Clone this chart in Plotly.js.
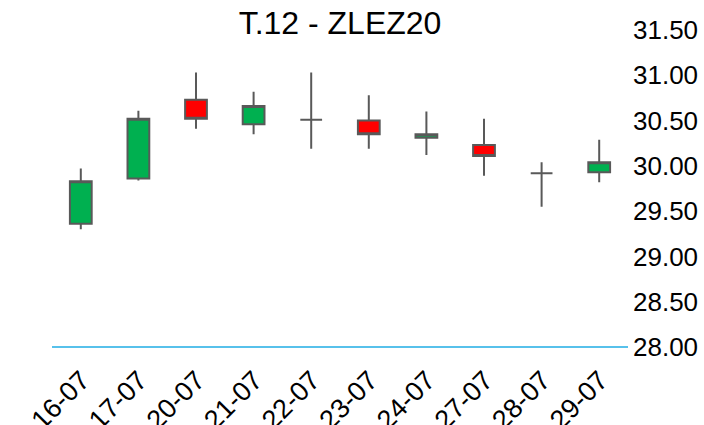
<!DOCTYPE html>
<html>
<head>
<meta charset="utf-8">
<script src="https://cdn.plot.ly/plotly-3.0.1.min.js"></script>
<style>html,body{margin:0;padding:0;background:#fff;}#chart{width:704px;height:425px;}</style>
</head>
<body>
<div id="chart"></div>
<script>
var dates = ["16-07","17-07","20-07","21-07","22-07","23-07","24-07","27-07","28-07","29-07"];
var openVals  = [29.36, 29.86, 30.73, 30.46, 30.51, 30.50, 30.31, 30.23, 29.92, 29.93];
var highVals  = [29.97, 30.61, 31.03, 30.82, 31.03, 30.78, 30.60, 30.52, 30.04, 30.29];
var lowVals   = [29.30, 29.84, 30.41, 30.35, 30.19, 30.19, 30.12, 29.89, 29.55, 29.82];
var closeVals = [29.83, 30.52, 30.52, 30.66, 30.51, 30.35, 30.35, 30.11, 29.92, 30.04];
var yTicks = [28.0, 28.5, 29.0, 29.5, 30.0, 30.5, 31.0, 31.5];
var titleText = "T.12 - ZLEZ20";

var trace = {
  type: "candlestick",
  x: dates,
  open: openVals,
  high: highVals,
  low: lowVals,
  close: closeVals,
  increasing: {fillcolor: "#00B050", line: {color: "#595959", width: 2}},
  decreasing: {fillcolor: "#FF0000", line: {color: "#595959", width: 2}},
  whiskerwidth: 0,
  hoverinfo: "skip",
  showlegend: false
};

var font = "Liberation Sans, Arial, sans-serif";
var layout = {
  width: 704,
  height: 425,
  margin: {l: 52, r: 76, t: 21, b: 78},
  paper_bgcolor: "#fff",
  plot_bgcolor: "#fff",
  boxgap: 0.46,
  boxgroupgap: 0.3,
  title: {
    text: titleText,
    font: {family: font, size: 32, color: "#000"},
    xref: "paper", x: 0.5, xanchor: "center",
    yref: "container", y: 0.947, yanchor: "middle"
  },
  shapes: [{
    type: "line", xref: "paper", yref: "paper",
    x0: 0, x1: 1, y0: 0, y1: 0,
    line: {color: "#1FADE4", width: 1.5},
    layer: "above"
  }],
  xaxis: {
    type: "category",
    categoryorder: "array",
    categoryarray: dates,
    range: [-0.5, 9.5],
    rangeslider: {visible: false},
    showgrid: false,
    zeroline: false,
    showline: false,
    ticks: "",
    tickangle: -45,
    ticklabelstandoff: 11,
    ticklabelshift: 1,
    tickfont: {family: font, size: 27, color: "#000"},
    fixedrange: true
  },
  yaxis: {
    side: "right",
    range: [28, 31.6],
    tickmode: "array",
    tickvals: yTicks,
    ticktext: yTicks.map(function(v){return v.toFixed(2);}),
    showgrid: false,
    zeroline: false,
    showline: false,
    ticks: "",
    ticklabelstandoff: 4,
    tickfont: {family: font, size: 26, color: "#000"},
    fixedrange: true
  }
};

Plotly.newPlot("chart", [trace], layout, {displayModeBar: false, staticPlot: true});
</script>
</body>
</html>
